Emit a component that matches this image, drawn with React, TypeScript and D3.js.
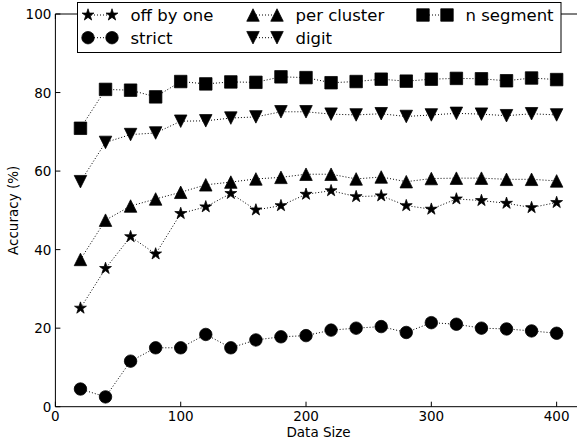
import React, { useRef, useEffect } from 'react';
import * as d3 from 'd3';

const sizes = [20, 40, 60, 80, 100, 120, 140, 160, 180, 200, 220, 240, 260, 280, 300, 320, 340, 360, 380, 400];

const offByOne = [25.1, 35.2, 43.3, 38.9, 49.2, 50.9, 54.3, 50.1, 51.2, 54.1, 55.0, 53.5, 53.7, 51.2, 50.3, 52.9, 52.5, 51.8, 50.7, 52.0];
const strict = [4.5, 2.5, 11.6, 15.0, 15.0, 18.4, 15.0, 17.0, 17.8, 18.1, 19.5, 20.0, 20.4, 18.9, 21.4, 21.0, 20.0, 19.8, 19.3, 18.7];
const perCluster = [37.5, 47.5, 51.1, 52.9, 54.6, 56.5, 57.2, 58.0, 58.4, 59.2, 59.2, 58.0, 58.5, 57.3, 58.1, 58.2, 58.2, 57.9, 57.9, 57.5];
const digit = [57.3, 67.3, 69.3, 69.7, 72.7, 72.8, 73.5, 73.8, 75.1, 75.1, 74.5, 74.3, 74.6, 73.9, 74.3, 74.7, 74.5, 74.1, 74.6, 74.3];
const nSegment = [70.9, 80.8, 80.6, 78.9, 82.8, 82.2, 82.7, 82.6, 84.0, 83.8, 82.5, 82.8, 83.4, 82.9, 83.4, 83.6, 83.5, 83.0, 83.7, 83.3];

const xTicks = [0, 100, 200, 300, 400];
const yTicks = [0, 20, 40, 60, 80, 100];

// legend order: column by column, like matplotlib ncol=3
const series = [
  { name: 'off by one', marker: 'star', values: offByOne },
  { name: 'strict', marker: 'circle', values: strict },
  { name: 'per cluster', marker: 'triUp', values: perCluster },
  { name: 'digit', marker: 'triDown', values: digit },
  { name: 'n segment', marker: 'square', values: nSegment },
];

const FONT = 'DejaVu Sans, sans-serif';

// marker path centred on 0,0, s = full size in px
function markerPath(kind: string, s: number): string {
  const h = s / 2;
  if (kind === 'square') return `M${-h},${-h}H${h}V${h}H${-h}Z`;
  if (kind === 'triUp') return `M0,${-h}L${h},${h}L${-h},${h}Z`;
  if (kind === 'triDown') return `M0,${h}L${h},${-h}L${-h},${-h}Z`;
  if (kind === 'circle') return d3.symbol(d3.symbolCircle, Math.PI * h * h)() as string;
  // 5 point star
  const pts: [number, number][] = [];
  for (let i = 0; i < 10; i++) {
    const r = i % 2 === 0 ? h : h * 0.381966;
    const a = -Math.PI / 2 + (i * Math.PI) / 5;
    pts.push([r * Math.cos(a), r * Math.sin(a)]);
  }
  return 'M' + pts.map(p => p.join(',')).join('L') + 'Z';
}

const Chart = () => {
  const svgRef = useRef<SVGSVGElement>(null);

  useEffect(() => {
    const width = 577;
    const height = 440;
    // the axes run a little past the right edge of the picture (xlim 0..420)
    const left = 55.4, right = 581.7, top = 14, bottom = 406.7;
    const mSize = 12.5;

    const svg = d3.select(svgRef.current)
      .attr('width', width)
      .attr('height', height)
      .style('overflow', 'hidden');
    svg.selectAll('*').remove();

    const x = d3.scaleLinear().domain([0, 420]).range([left, right]);
    const y = d3.scaleLinear().domain([0, 100]).range([bottom, top]);

    const plot = svg.append('g');

    // series lines + markers
    series.forEach(s => {
      const pts = sizes.map((d, i) => [d, s.values[i]] as [number, number]);
      const line = d3.line<[number, number]>().x(d => x(d[0])).y(d => y(d[1]));
      plot.append('path')
        .attr('d', line(pts) as string)
        .attr('fill', 'none')
        .attr('stroke', '#000')
        .attr('stroke-width', 1)
        .attr('stroke-dasharray', '1,2');
      plot.selectAll(null)
        .data(pts)
        .enter()
        .append('path')
        .attr('d', markerPath(s.marker, mSize))
        .attr('transform', d => `translate(${x(d[0])},${y(d[1])})`)
        .attr('fill', '#000')
        .attr('stroke', '#000')
        .attr('stroke-width', 0.75);
    });

    // spines (left, bottom, top; right one is off the picture)
    const axes = svg.append('g').attr('stroke', '#000').attr('stroke-width', 1).attr('fill', 'none');
    axes.append('line').attr('x1', left).attr('x2', left).attr('y1', top).attr('y2', bottom);
    axes.append('line').attr('x1', left).attr('x2', width).attr('y1', bottom).attr('y2', bottom);
    axes.append('line').attr('x1', left).attr('x2', width).attr('y1', top).attr('y2', top);

    // ticks pointing inward
    xTicks.forEach(t => {
      axes.append('line').attr('x1', x(t)).attr('x2', x(t)).attr('y1', bottom).attr('y2', bottom - 5);
      axes.append('line').attr('x1', x(t)).attr('x2', x(t)).attr('y1', top).attr('y2', top + 5);
    });
    yTicks.forEach(t => {
      axes.append('line').attr('x1', left).attr('x2', left + 5).attr('y1', y(t)).attr('y2', y(t));
    });

    // tick labels
    svg.append('g').selectAll('text')
      .data(xTicks)
      .enter()
      .append('text')
      .attr('x', d => x(d))
      .attr('y', bottom + 14.5)
      .attr('text-anchor', 'middle')
      .attr('font-family', FONT)
      .attr('font-size', 13.5)
      .text(d => d);

    svg.append('g').selectAll('text')
      .data(yTicks)
      .enter()
      .append('text')
      .attr('x', left - 4)
      .attr('y', d => y(d) + 5)
      .attr('text-anchor', 'end')
      .attr('font-family', FONT)
      .attr('font-size', 13.5)
      .text(d => d);

    // axis labels
    svg.append('text')
      .attr('x', (left + right) / 2)
      .attr('y', 436.5)
      .attr('text-anchor', 'middle')
      .attr('font-family', FONT)
      .attr('font-size', 13.5)
      .text('Data Size');

    svg.append('text')
      .attr('transform', `translate(17.5,${(top + bottom) / 2}) rotate(-90)`)
      .attr('text-anchor', 'middle')
      .attr('font-family', FONT)
      .attr('font-size', 13.5)
      .text('Accuracy (%)');

    // legend
    const legend = svg.append('g');
    legend.append('rect')
      .attr('x', 77.5)
      .attr('y', 2.5)
      .attr('width', 483.5)
      .attr('height', 50)
      .attr('fill', '#fff')
      .attr('stroke', '#000')
      .attr('stroke-width', 1);

    const colX = [88, 253, 423];
    const rowY = [15, 37.7];
    series.forEach((s, i) => {
      const cx = colX[Math.floor(i / 2)];
      const cy = rowY[i % 2];
      const g = legend.append('g');
      g.append('line')
        .attr('x1', cx).attr('x2', cx + 24)
        .attr('y1', cy).attr('y2', cy)
        .attr('stroke', '#000')
        .attr('stroke-width', 1)
        .attr('stroke-dasharray', '1,2');
      [cx, cx + 24].forEach(mx => {
        g.append('path')
          .attr('d', markerPath(s.marker, mSize))
          .attr('transform', `translate(${mx},${cy})`)
          .attr('fill', '#000')
          .attr('stroke', '#000')
          .attr('stroke-width', 0.75);
      });
      g.append('text')
        .attr('x', cx + 42.5)
        .attr('y', cy + 6)
        .attr('font-family', FONT)
        .attr('font-size', 16.5)
        .text(s.name);
    });
  }, []);

  return <svg ref={svgRef} style={{ position: 'absolute', left: 0, top: 0 }}></svg>;
};

export default function App() {
  return <Chart />;
}
